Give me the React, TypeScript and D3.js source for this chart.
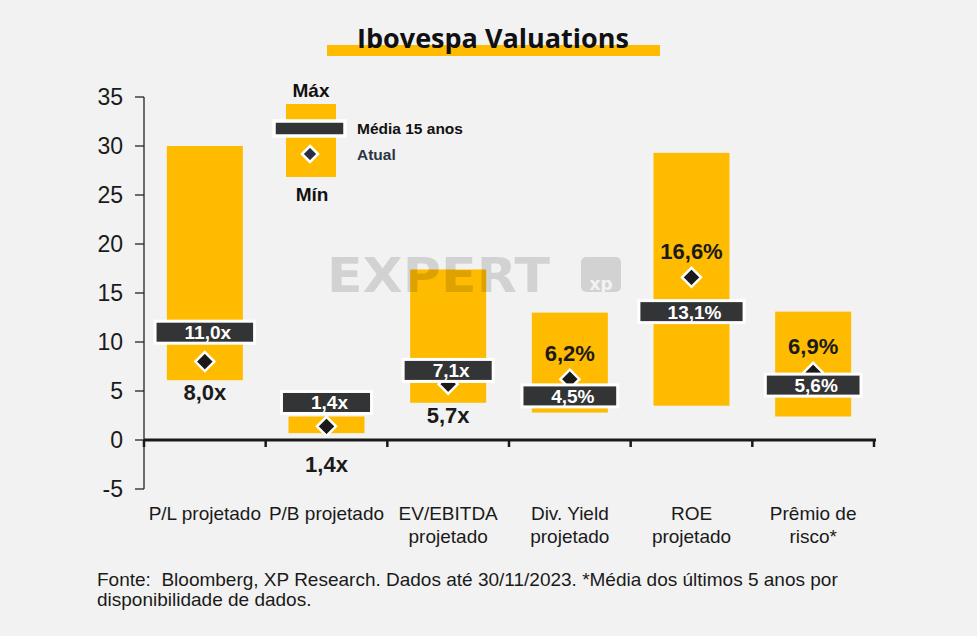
import React from "react";
import * as d3 from "d3";

const categoryLines: string[][] = [
  ["P/L projetado"],
  ["P/B projetado"],
  ["EV/EBITDA", "projetado"],
  ["Div. Yield", "projetado"],
  ["ROE", "projetado"],
  ["Prêmio de", "risco*"],
];
const categories = categoryLines.map((l) => l.join(" "));
const maxVals = [30.0, 2.4, 17.4, 13.0, 29.3, 13.1];
const minVals = [6.1, 0.7, 3.8, 2.8, 3.5, 2.4];
const mediaVals = [11.0, 1.4, 7.1, 4.5, 13.1, 5.6];
const atualVals = [8.0, 1.4, 5.7, 6.2, 16.6, 6.9];
const suffixes = ["x", "x", "x", "%", "%", "%"];
const atualLabelSide = ["below", "below", "below", "above", "above", "above"];
const yTicks = [35, 30, 25, 20, 15, 10, 5, 0, -5];

const W = 977;
const H = 636;
const YELLOW = "#FFBB00";
const DARK = "#333436";
const BG = "#F2F2F2";
const fmt = (v: number, s: string) => d3.format(".1f")(v).replace(".", ",") + s;

const charW = (c: string) => (c === "," ? 0.278 : c === "%" ? 0.889 : 0.556);
const textW = (t: string, fs: number) => t.split("").reduce((a, c) => a + charW(c), 0) * fs;

const Diamond = ({ cx, cy, r, fill }: { cx: number; cy: number; r: number; fill: string }) => (
  <path
    d={`M${cx},${cy - r}L${cx + r},${cy}L${cx},${cy + r}L${cx - r},${cy}Z`}
    fill={fill}
    stroke="#fff"
    strokeWidth={2.5}
    strokeLinejoin="miter"
  />
);

export default function App() {
  const y = d3.scaleLinear().domain([-5, 35]).range([489, 97]);
  const x = d3.scaleBand<string>().domain(categories).range([144, 874]);
  const bw = x.bandwidth();
  const barW = 76;
  const font = "'Liberation Sans', Arial, sans-serif";

  return (
    <svg width={W} height={H} style={{ display: "block", position: "absolute", left: 0, top: 0 }} fontFamily={font}>
      <rect width={W} height={H} fill={BG} />
      {/* Title */}
      <rect x={327} y={45} width={333} height={11} fill={YELLOW} />
      <text x={493} y={48} textAnchor="middle" fontFamily="'Open Sans', sans-serif" fontWeight={700} fontSize={27} fill="#111">
        Ibovespa Valuations
      </text>

      {/* Y axis */}
      <line x1={144} x2={144} y1={y(35)} y2={y(-5)} stroke="#222" strokeWidth={1.3} />
      {yTicks.map((t) => (
        <g key={t}>
          <line x1={135} x2={144} y1={y(t)} y2={y(t)} stroke="#222" strokeWidth={1.3} />
          <text x={123} y={y(t) + 8.3} textAnchor="end" fontSize={23} fill="#1a1a1a">
            {t}
          </text>
        </g>
      ))}

      {/* Bars */}
      {categories.map((c, i) => {
        const cx = (x(c) as number) + bw / 2;
        return (
          <rect key={c} x={cx - barW / 2} y={y(maxVals[i])} width={barW} height={y(minVals[i]) - y(maxVals[i])} fill={YELLOW} />
        );
      })}

      {/* Watermark */}
      <g>
        <text x={327} y={292} fontFamily="'DejaVu Sans', sans-serif" fontWeight={700} fontSize={48} fill="#000" fillOpacity={0.13} textLength={223} lengthAdjust="spacingAndGlyphs">
          EXPERT
        </text>
        <rect x={581} y={257} width={40} height={35} rx={5} fill="#000" fillOpacity={0.13} />
        <text x={601} y={290} textAnchor="middle" fontFamily="'DejaVu Sans', sans-serif" fontWeight={700} fontSize={17} fill={BG}>
          xp
        </text>
      </g>

      {/* Zero line and category ticks */}
      <line x1={144} x2={876} y1={y(0)} y2={y(0)} stroke="#1a1a1a" strokeWidth={3} />
      {categories.map((c) => (
        <line key={c} x1={x(c) as number} x2={x(c) as number} y1={y(0)} y2={y(0) + 7} stroke="#1a1a1a" strokeWidth={2.5} />
      ))}
      <line x1={874} x2={874} y1={y(0)} y2={y(0) + 7} stroke="#1a1a1a" strokeWidth={2.5} />

      {/* Diamonds */}
      {categories.map((c, i) => {
        const cx = (x(c) as number) + bw / 2;
        return <Diamond key={c} cx={cx} cy={y(atualVals[i])} r={9.5} fill="#1a1a1a" />;
      })}

      {/* Media boxes */}
      {categories.map((c, i) => {
        const cx = (x(c) as number) + bw / 2;
        const label = fmt(mediaVals[i], suffixes[i]);
        const w = textW(label, 17) + 57;
        let cy = y(mediaVals[i]);
        if (cy + 14 > y(0) - 4) cy = y(maxVals[i]) - 14;
        return (
          <g key={c}>
            <rect x={cx - w / 2} y={cy - 11} width={w} height={22} fill={DARK} stroke="#fff" strokeWidth={3} />
            <text x={cx + 3} y={cy + 7} textAnchor="middle" fontWeight={700} fontSize={19} fill="#fff">
              {label}
            </text>
          </g>
        );
      })}

      {/* Atual labels */}
      {categories.map((c, i) => {
        const cx = (x(c) as number) + bw / 2;
        const label = fmt(atualVals[i], suffixes[i]);
        let by: number;
        if (atualLabelSide[i] === "above") by = y(atualVals[i]) - 18;
        else {
          by = y(minVals[i]) + 20;
          if (by > y(0) - 5) by = y(0) + 32;
        }
        return (
          <text key={c} x={cx} y={by} textAnchor="middle" fontWeight={700} fontSize={22} fill="#1a1a1a">
            {label}
          </text>
        );
      })}

      {/* Category labels */}
      {categories.map((c, i) => {
        const cx = (x(c) as number) + bw / 2;
        return (
          <text key={c} x={cx} textAnchor="middle" fontSize={19} fill="#1a1a1a">
            {categoryLines[i].map((l, j) => (
              <tspan key={j} x={cx} y={520 + j * 23}>
                {l}
              </tspan>
            ))}
          </text>
        );
      })}

      {/* Legend */}
      <text x={311} y={97} textAnchor="middle" fontWeight={700} fontSize={19} fill="#111">
        Máx
      </text>
      <rect x={286} y={104} width={50} height={73} fill={YELLOW} />
      <rect x={274} y={121} width={71} height={15} fill={DARK} stroke="#fff" strokeWidth={3.5} />
      <Diamond cx={310} cy={154} r={8} fill="#22303f" />
      <text x={312} y={201} textAnchor="middle" fontWeight={700} fontSize={19} fill="#111">
        Mín
      </text>
      <text x={357} y={134} fontWeight={700} fontSize={15.5} fill="#111">
        Média 15 anos
      </text>
      <text x={357} y={160} fontWeight={700} fontSize={15.5} fill="#2a3545">
        Atual
      </text>

      {/* Footer */}
      <text x={97} y={586} fontSize={19} fill="#1a1a1a" style={{ whiteSpace: "pre" }}>
        {"Fonte:  Bloomberg, XP Research. Dados até 30/11/2023. *Média dos últimos 5 anos por"}
      </text>
      <text x={97} y={606} fontSize={19} fill="#1a1a1a">
        disponibilidade de dados.
      </text>
    </svg>
  );
}
